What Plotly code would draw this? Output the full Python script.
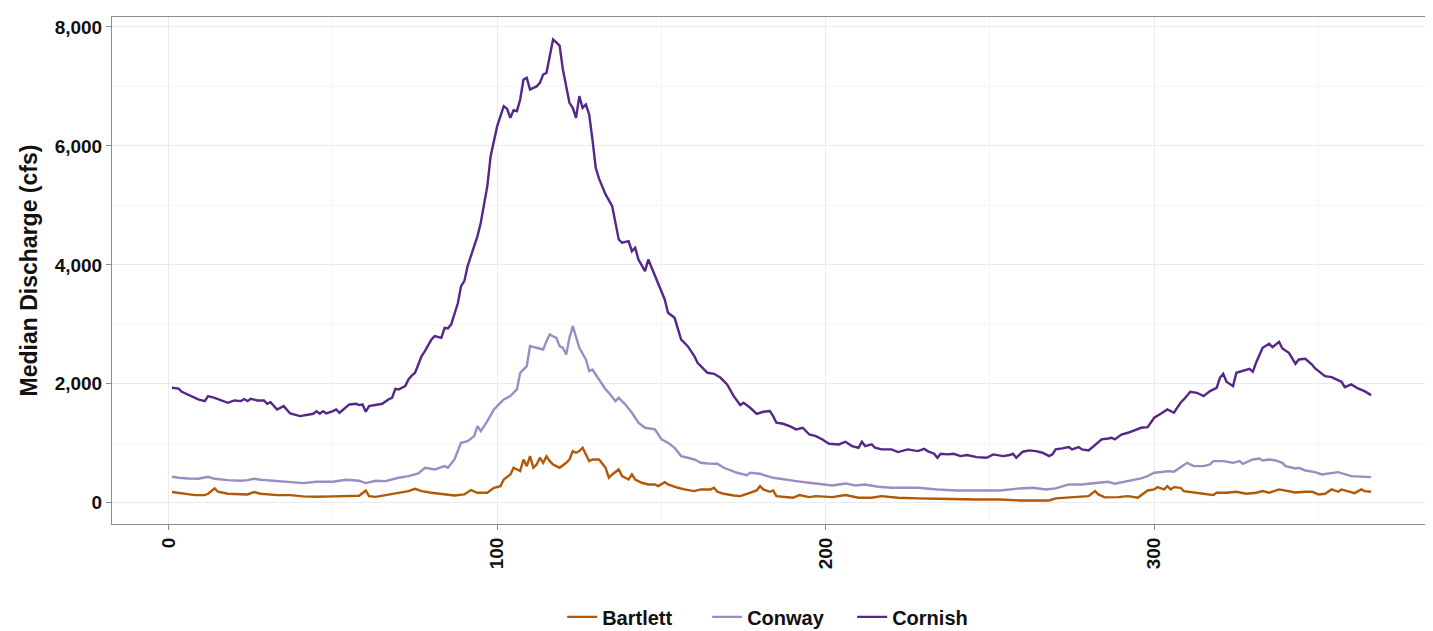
import plotly.graph_objects as go

# ---- data (day of year, median discharge in cfs) ----
cornish_day = [1, 3, 4, 7, 9, 11, 12, 14, 16, 18, 20, 22, 23, 24, 25, 27, 29, 30, 31, 33, 35, 36, 37, 40, 42, 44, 45, 46, 47, 48, 50, 51, 52, 54, 55, 57, 58, 59, 60, 61, 63, 65, 67, 68, 69, 70, 72, 73, 74, 75, 76, 77, 78, 80, 81, 83, 84, 85, 86, 87, 88, 89, 90, 91, 92, 93, 94, 95, 96, 97, 98, 99, 100, 101, 102, 103, 104, 105, 106, 107, 108, 109, 110, 111, 112, 113, 114, 115, 116, 117, 118, 119, 120, 121, 122, 123, 124, 125, 126, 127, 128, 129, 130, 131, 132, 133, 135, 136, 137, 138, 140, 141, 142, 143, 145, 146, 147, 149, 151, 152, 154, 156, 158, 160, 161, 162, 163, 164, 166, 168, 170, 172, 174, 175, 177, 179, 181, 183, 184, 185, 187, 189, 191, 193, 195, 197, 199, 201, 204, 206, 208, 210, 211, 212, 214, 215, 217, 220, 222, 225, 228, 230, 231, 233, 234, 235, 237, 239, 241, 243, 246, 248, 249, 251, 252, 254, 256, 257, 258, 260, 262, 264, 266, 268, 269, 270, 272, 274, 275, 277, 278, 280, 281, 283, 284, 286, 287, 288, 290, 292, 294, 296, 298, 300, 302, 304, 306, 308, 309, 311, 313, 315, 317, 319, 320, 321, 322, 324, 325, 327, 329, 330, 331, 333, 335, 336, 338, 339, 341, 343, 344, 346, 348, 349, 351, 352, 354, 355, 357, 358, 359, 360, 362, 364, 366]
cornish_cfs = [1933, 1920, 1866, 1793, 1737, 1709, 1793, 1765, 1726, 1681, 1720, 1709, 1743, 1709, 1748, 1720, 1720, 1664, 1692, 1568, 1625, 1568, 1501, 1457, 1474, 1496, 1540, 1496, 1540, 1501, 1540, 1568, 1513, 1597, 1653, 1664, 1642, 1653, 1530, 1625, 1642, 1664, 1740, 1765, 1916, 1905, 1961, 2073, 2140, 2185, 2325, 2465, 2550, 2745, 2801, 2773, 2942, 2930, 3000, 3180, 3350, 3642, 3726, 3979, 4150, 4315, 4483, 4707, 5043, 5324, 5828, 6107, 6332, 6500, 6668, 6624, 6472, 6601, 6584, 6780, 7116, 7144, 6948, 6976, 7000, 7060, 7200, 7228, 7508, 7788, 7740, 7687, 7284, 7004, 6724, 6640, 6472, 6836, 6640, 6696, 6528, 6107, 5631, 5450, 5324, 5184, 4987, 4707, 4426, 4371, 4398, 4230, 4286, 4090, 3895, 4090, 3950, 3698, 3418, 3194, 3110, 2745, 2633, 2465, 2353, 2297, 2241, 2185, 2168, 2101, 1989, 1793, 1642, 1681, 1597, 1496, 1530, 1541, 1457, 1345, 1328, 1289, 1233, 1261, 1148, 1121, 1065, 992, 981, 1026, 953, 925, 1026, 953, 981, 925, 897, 897, 852, 897, 869, 908, 869, 824, 757, 824, 813, 824, 785, 802, 768, 757, 757, 813, 802, 785, 802, 824, 757, 858, 880, 869, 841, 785, 813, 897, 914, 936, 897, 936, 897, 880, 925, 1009, 1065, 1080, 1093, 1065, 1148, 1177, 1216, 1261, 1272, 1429, 1496, 1569, 1513, 1681, 1737, 1866, 1849, 1793, 1877, 1933, 2101, 2168, 2034, 1961, 2185, 2225, 2252, 2202, 2353, 2605, 2672, 2616, 2706, 2594, 2521, 2336, 2409, 2420, 2325, 2258, 2168, 2129, 2112, 2090, 2034, 1944, 1961, 1989, 1922, 1877, 1810]

conway_day = [1, 3, 6, 9, 12, 14, 18, 22, 24, 26, 28, 32, 37, 41, 45, 50, 54, 58, 60, 63, 66, 70, 73, 76, 78, 81, 84, 85, 87, 89, 91, 93, 94, 95, 97, 99, 100, 102, 104, 106, 107, 109, 110, 112, 114, 115, 116, 117, 118, 119, 120, 121, 122, 123, 124, 125, 127, 128, 129, 131, 133, 134, 136, 137, 139, 141, 143, 145, 148, 150, 152, 154, 156, 158, 160, 162, 164, 167, 169, 173, 176, 177, 180, 184, 187, 191, 195, 200, 202, 206, 209, 212, 216, 220, 225, 228, 234, 240, 246, 253, 259, 263, 267, 270, 274, 278, 283, 285, 286, 288, 292, 294, 296, 298, 300, 303, 304, 306, 308, 310, 312, 315, 317, 318, 321, 324, 326, 327, 330, 332, 333, 335, 337, 339, 340, 343, 344, 346, 349, 351, 356, 358, 360, 366]
conway_cfs = [437, 420, 409, 403, 437, 403, 381, 370, 381, 403, 387, 370, 358, 331, 353, 353, 387, 370, 331, 370, 364, 420, 448, 493, 588, 560, 616, 588, 728, 1009, 1037, 1121, 1289, 1205, 1373, 1569, 1625, 1737, 1793, 1905, 2185, 2297, 2634, 2605, 2577, 2717, 2829, 2800, 2773, 2634, 2605, 2493, 2773, 2970, 2773, 2605, 2409, 2213, 2241, 2073, 1905, 1849, 1709, 1765, 1653, 1513, 1345, 1261, 1233, 1065, 1009, 925, 785, 757, 728, 672, 660, 655, 588, 504, 465, 504, 487, 420, 392, 364, 336, 297, 291, 325, 291, 308, 269, 252, 252, 252, 224, 207, 207, 207, 241, 252, 224, 241, 308, 308, 336, 347, 353, 319, 364, 392, 409, 448, 504, 521, 532, 521, 600, 672, 616, 616, 644, 700, 700, 672, 700, 655, 728, 745, 711, 728, 711, 672, 616, 577, 588, 543, 515, 476, 515, 476, 448, 431]

bartlett_day = [1, 5, 8, 11, 12, 14, 15, 18, 22, 24, 26, 28, 33, 37, 41, 45, 50, 54, 58, 60, 61, 63, 66, 70, 73, 75, 77, 80, 84, 87, 90, 92, 94, 97, 99, 101, 102, 104, 105, 107, 108, 109, 110, 111, 112, 113, 114, 115, 116, 117, 118, 119, 121, 122, 123, 124, 125, 126, 127, 128, 129, 131, 133, 134, 135, 137, 138, 140, 141, 142, 144, 146, 148, 149, 151, 152, 155, 157, 160, 162, 165, 166, 167, 169, 172, 174, 176, 178, 179, 180, 181, 183, 184, 185, 188, 190, 192, 195, 197, 202, 206, 210, 214, 217, 222, 225, 228, 234, 240, 246, 253, 259, 265, 268, 270, 273, 277, 280, 282, 283, 285, 289, 292, 295, 298, 300, 301, 303, 304, 305, 306, 308, 309, 312, 315, 318, 319, 322, 325, 328, 331, 333, 335, 338, 340, 343, 346, 348, 350, 352, 354, 356, 357, 359, 361, 363, 364, 366]
bartlett_cfs = [180, 151, 129, 129, 151, 241, 185, 151, 151, 140, 180, 151, 129, 129, 107, 101, 107, 107, 118, 207, 112, 100, 125, 168, 196, 235, 196, 168, 140, 123, 140, 213, 168, 168, 252, 280, 392, 476, 588, 532, 728, 616, 785, 588, 644, 757, 672, 780, 700, 644, 616, 588, 672, 728, 869, 841, 869, 925, 813, 700, 728, 728, 588, 420, 476, 560, 448, 392, 476, 392, 336, 308, 308, 280, 347, 308, 252, 224, 196, 224, 224, 252, 185, 151, 123, 112, 151, 196, 207, 280, 224, 185, 207, 112, 95, 84, 129, 95, 112, 95, 129, 84, 84, 112, 84, 73, 73, 67, 56, 56, 56, 39, 39, 39, 73, 84, 101, 112, 196, 140, 90, 95, 112, 84, 207, 224, 263, 224, 280, 224, 263, 252, 196, 168, 151, 129, 168, 168, 185, 151, 168, 196, 168, 224, 207, 174, 185, 185, 140, 151, 224, 185, 224, 196, 162, 224, 196, 185]

series = [
    ("Bartlett", bartlett_day, bartlett_cfs, "#b35806"),
    ("Conway", conway_day, conway_cfs, "#998ec3"),
    ("Cornish", cornish_day, cornish_cfs, "#542788"),
]

fig = go.Figure()
for name, d, v, c in series:
    fig.add_trace(go.Scatter(x=d, y=v, mode="lines", name=name,
                             line=dict(color=c, width=2.4)))

font_family = "Liberation Sans, Arial, sans-serif"
axis_common = dict(
    automargin=False,
    showgrid=True, gridcolor="#ebebeb", gridwidth=1,
    minor=dict(showgrid=True, gridcolor="#f5f5f5", gridwidth=1),
    showline=True, linecolor="#8c8c8c", linewidth=1, mirror=True,
    ticks="outside", ticklen=5, tickcolor="#8c8c8c",
    zeroline=False,
    tickfont=dict(family=font_family, size=19, color="#111111", weight="bold"),
)

fig.update_xaxes(range=[-17.25, 384.25], tickvals=[0, 100, 200, 300],
                 minor_tickvals=[50, 150, 250, 350], minor_ticks="",
                 tickangle=-90, **axis_common)
fig.update_yaxes(range=[-357, 8167], tickvals=[0, 2000, 4000, 6000, 8000],
                 minor_tickvals=[1000, 3000, 5000, 7000], minor_ticks="",
                 tickformat=",d",
                 title=dict(text="Median Discharge (cfs)",
                            font=dict(family=font_family, size=23, color="#111111", weight="bold"),
                            standoff=10),
                 **axis_common)

fig.update_layout(
    width=1433, height=631,
    margin=dict(l=104, r=10, t=9, b=115),
    paper_bgcolor="white", plot_bgcolor="white",
    showlegend=True,
    legend=dict(orientation="h", xref="container", yref="container",
                x=0.5385, xanchor="center", y=0.035, yanchor="middle",
                font=dict(family=font_family, size=20, color="#111111", weight="bold"),
                itemwidth=30, entrywidth=100, bgcolor="rgba(0,0,0,0)"),
)

fig.write_html("out.html")
